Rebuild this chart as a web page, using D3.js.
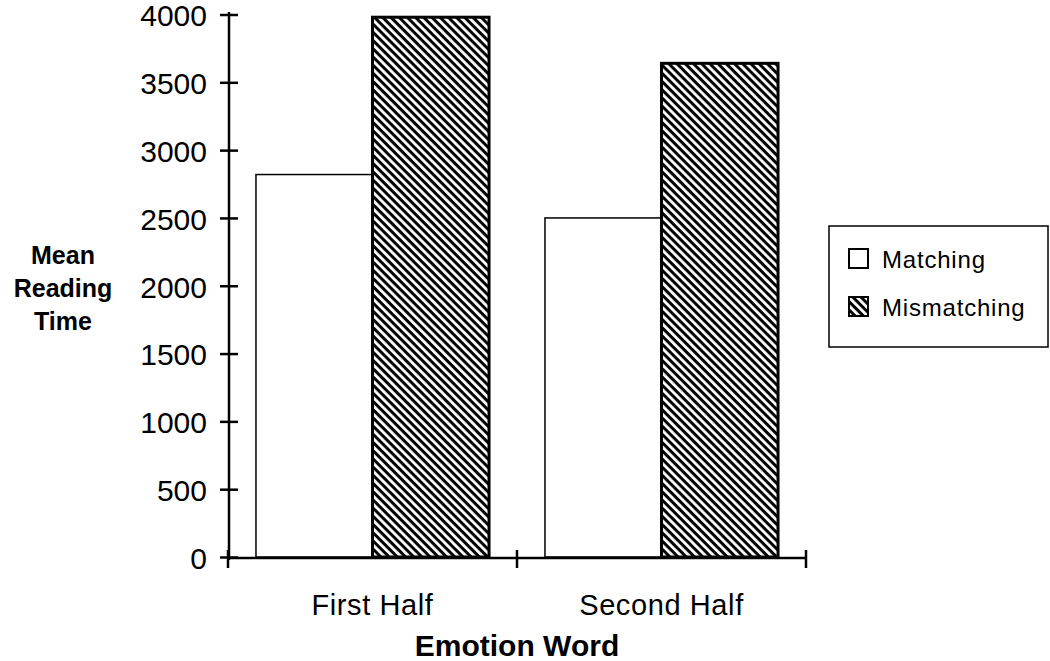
<!DOCTYPE html>
<html><head><meta charset="utf-8">
<script src="https://cdn.jsdelivr.net/npm/d3@7"></script>
<style>body{margin:0;background:#fff}svg{display:block}text{font-family:"Liberation Sans",Arial,sans-serif;fill:#000}</style>
</head><body><svg id="c" width="1050" height="661"></svg>
<script>
const categories = ["First Half", "Second Half"];
const seriesNames = ["Matching", "Mismatching"];
const matching = [2820, 2500];
const mismatching = [3980, 3640];
const yTicks = [0, 500, 1000, 1500, 2000, 2500, 3000, 3500, 4000];

const svg = d3.select("#c");
const defs = svg.append("defs");
const pat = defs.append("pattern").attr("id","hatch").attr("patternUnits","userSpaceOnUse")
  .attr("width",5.8).attr("height",5.8).attr("patternTransform","rotate(45)");
pat.append("rect").attr("width",5.8).attr("height",5.8).attr("fill","#fff");
pat.append("rect").attr("width",5.8).attr("height",3).attr("fill","#000");

const x0 = d3.scaleBand().domain(categories).range([228, 806]).padding(0);
const x1 = d3.scaleBand().domain(seriesNames).range([0, x0.bandwidth()]).paddingInner(0).paddingOuter(0.24);
const y = d3.scaleLinear().domain([0, 4000]).range([557, 14.5]);

const data = categories.map((c,i)=>({cat:c, vals:[{s:"Matching",v:matching[i]},{s:"Mismatching",v:mismatching[i]}]}));

const g = svg.append("g");
g.selectAll("g.grp").data(data).join("g").attr("class","grp")
 .attr("transform",d=>`translate(${x0(d.cat)},0)`)
 .selectAll("rect").data(d=>d.vals).join("rect")
 .attr("x",d=>x1(d.s)).attr("width",x1.bandwidth())
 .attr("y",d=>y(d.v)).attr("height",d=>y(0)-y(d.v))
 .attr("fill",d=>d.s==="Matching"?"#fff":"url(#hatch)")
 .attr("stroke","#000").attr("stroke-width",d=>d.s==="Matching"?1.5:3);

// y axis
const yAxis = d3.axisLeft(y).tickValues(yTicks).tickSize(9).tickPadding(10).tickFormat(d3.format("d"));
const ya = svg.append("g").attr("transform","translate(229,0)").call(yAxis);
ya.select(".domain").attr("stroke","#000").attr("stroke-width",2.5).attr("d","M0,12V560");
ya.selectAll(".tick line").attr("x2",-9).attr("x1",9).attr("stroke","#000").attr("stroke-width",2.5);
ya.selectAll(".tick text").attr("font-size",30).attr("x",-22).attr("dy","0.38em");

// x axis
const xa = svg.append("g").attr("transform","translate(0,558)");
xa.append("line").attr("x1",228).attr("x2",806).attr("stroke","#000").attr("stroke-width",2.5);
const bounds = [x0(categories[0]), x0(categories[1]), x0(categories[1])+x0.bandwidth()];
xa.selectAll("line.t").data(bounds).join("line").attr("class","t")
  .attr("x1",d=>d).attr("x2",d=>d).attr("y1",-8).attr("y2",10).attr("stroke","#000").attr("stroke-width",2.5);
xa.selectAll("text").data(categories).join("text")
  .attr("x",d=>x0(d)+x0.bandwidth()/2).attr("y",57).attr("text-anchor","middle")
  .attr("font-size",29).attr("letter-spacing",0.6).text(d=>d);

svg.append("text").attr("x",517).attr("y",656).attr("text-anchor","middle")
  .attr("font-size",30).attr("font-weight","bold").text("Emotion Word");
const yl = svg.append("text").attr("text-anchor","middle").attr("font-size",25).attr("font-weight","bold");
["Mean","Reading","Time"].forEach((t,i)=>yl.append("tspan").attr("x",63).attr("y",264+i*33).text(t));

// legend
const lg = svg.append("g");
lg.append("rect").attr("x",829).attr("y",226).attr("width",219).attr("height",121)
  .attr("fill","#fff").attr("stroke","#000").attr("stroke-width",1.5);
seriesNames.forEach((s,i)=>{
  const yy = 249 + i*48;
  lg.append("rect").attr("x",849).attr("y",yy).attr("width",19).attr("height",19)
    .attr("fill",i===0?"#fff":"url(#hatch)").attr("stroke","#000").attr("stroke-width",2);
  lg.append("text").attr("x",882).attr("y",yy+19).attr("font-size",24).attr("letter-spacing",0.8).text(s);
});
</script></body></html>
